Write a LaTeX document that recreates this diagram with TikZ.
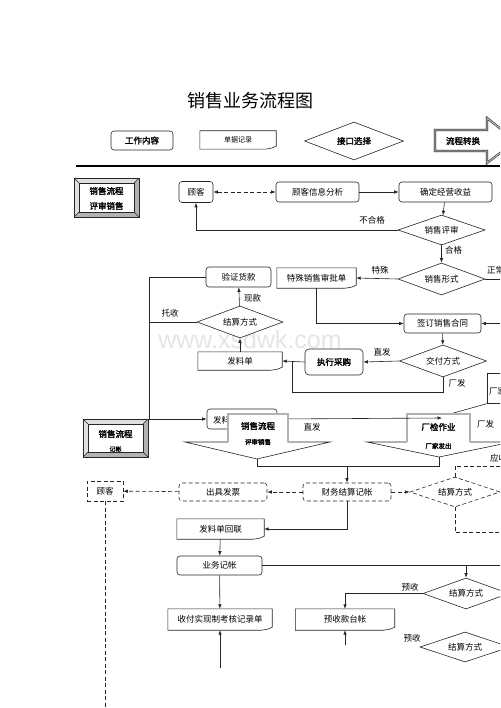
\documentclass[tikz,border=0pt]{standalone}
\usepackage{fontspec}
\newfontfamily\cjk{Noto Sans CJK SC}
\newfontfamily\cjkb[FakeBold=2]{Noto Sans CJK SC}
\newfontfamily\wmfont{Liberation Sans}
\usetikzlibrary{shapes.geometric,arrows.meta,calc}
\tikzset{
 ln/.style={line width=0.6pt, draw=black!85},
 arr/.style={ln, -{Latex[length=4.5pt,width=3.5pt]}},
 darr/.style={arr, dash pattern=on 4pt off 2.5pt},
 dln/.style={ln, dash pattern=on 4pt off 2.5pt},
 box/.style={ln, draw, rounded corners=3pt, fill=white, inner sep=0pt},
 dbox/.style={box, dash pattern=on 4pt off 2.5pt},
 dia/.style={ln, draw, diamond, aspect=3, inner sep=0pt, fill=white},
 ddia/.style={dia, dash pattern=on 4pt off 2.5pt},
 docn/.style={fill=white, inner sep=0pt},
 lbl/.style={inner sep=1pt},
 bld/.style={font=\cjkb\fontsize{8.5}{10}\selectfont},
 sbld/.style={font=\cjkb\fontsize{6.5}{7}\selectfont},
 bigarrow/.style={draw=black, double=gray!60, double distance=1.3pt, line width=0.4pt}
}
\newcommand\mydoc[6]{%
 \node[docn, minimum width=#4, minimum height=#5] (#1) at (#2,#3) {#6};
 \draw[ln] (#1.north west) -- (#1.north east) -- ($(#1.south east)+(0,-3)$) .. controls ($(#1.south east)+(-4,-1)$) .. ($(#1.south east)+(-11,0)$) -- (#1.south west) -- cycle;}
\newcommand\mybevel[4]{%
 \fill[gray!60] (#1,#2) rectangle (#3,#4);
 \fill[gray!25] (#1,#2) -- (#3,#2) -- ({#3-5},{#2+5}) -- ({#1+5},{#2+5}) -- ({#1+5},{#4-5}) -- (#1,#4) -- cycle;
 \draw[ln] (#1,#2) rectangle (#3,#4);
 \draw[ln, fill=white] ({#1+5},{#2+5}) rectangle ({#3-5},{#4-5});
 \draw[ln] (#1,#2) -- ({#1+5},{#2+5}) (#3,#2) -- ({#3-5},{#2+5}) (#1,#4) -- ({#1+5},{#4-5}) (#3,#4) -- ({#3-5},{#4-5});}
\begin{document}
\begin{tikzpicture}[x=1pt,y=-1pt,font=\cjk\fontsize{8.5}{10}\selectfont]
\useasboundingbox (0,0) rectangle (500,708);
\clip (0,0) rectangle (500,708);
\fill[white] (0,0) rectangle (500,708);

% watermark
\node[font=\wmfont\fontsize{25}{28}\selectfont, text=gray!20] (wm) at (250,340) {www.xsdwk.com};

% title
\node[font=\cjk\fontsize{18}{20}\selectfont] (title) at (250,101) {销售业务流程图};

% legend
\node[box, bld, minimum width=62, minimum height=19] (lg1) at (142,140.5) {工作内容};
\mydoc{lg2}{238}{140}{76}{18}{\fontsize{7}{8}\selectfont 单据记录}
\node[dia, bld, minimum width=99, minimum height=38] (lg3) at (354,141) {接口选择};
\filldraw[bigarrow, fill=white] (435,130) -- (487,130) -- (487,118) -- (516,141) -- (487,163) -- (487,151) -- (435,151) -- cycle;
\node[bld] (lg4) at (463,141) {流程转换};
\draw[line width=2.5pt] (76,166) -- (500,166);

% header 1
\mybevel{74}{178}{139}{217}
\node[bld] (h1a) at (106.5,191) {销售流程};
\node[bld] (h1b) at (106.5,206) {评审销售};

% row 1
\node[box, minimum width=34, minimum height=21] (c1) at (196,192) {顾客};
\node[box, minimum width=83, minimum height=20] (ana) at (317.5,192) {顾客信息分析};
\node[box, minimum width=93, minimum height=20] (prof) at (445.5,192) {确定经营收益};
\draw[darr, {Latex[length=4.5pt,width=3.5pt]}-{Latex[length=4.5pt,width=3.5pt]}] (c1) -- (ana);
\draw[arr] (ana) -- (prof);
\node[dia, minimum width=87, minimum height=30] (rev) at (441.5,230) {销售评审};
\draw[arr] (prof) -- (rev);
\draw[arr] (rev.west) -| (c1.south);
\node[lbl] (lbf) at (372,220) {不合格};
\node[dia, minimum width=87, minimum height=32] (form) at (441.5,279) {销售形式};
\draw[arr] (rev) -- (form);
\node[lbl, anchor=west] (lhg) at (444,250) {合格};
\mydoc{spec}{316.5}{278}{79}{20}{特殊销售审批单}
\draw[arr] (form.west) -- (spec.east);
\node[lbl] (lts) at (380,270) {特殊};
\coordinate (rg1) at (500,279);
\draw[ln] (form.east) -- (rg1);
\node[lbl, anchor=west] (lzc) at (486,270) {正常};

% payment block
\node[box, minimum width=65, minimum height=20] (verify) at (238.5,277) {验证货款};
\node[dia, minimum width=86, minimum height=32] (set1) at (240,322) {结算方式};
\draw[arr] (set1) -- (verify);
\node[lbl, anchor=west] (lxk) at (243,298) {现款};
\coordinate (j1) at (149,322);
\coordinate (j2) at (149,419);
\draw[ln] (set1.west) -- (j1);
\node[lbl] (lts2) at (170,313) {托收};
\mydoc{issue}{240}{361}{84}{18}{发料单}
\draw[arr] (issue) -- (set1);

\node[box, minimum width=77, minimum height=19] (contract) at (442.5,323.5) {签订销售合同};
\draw[arr] (spec.south) |- (contract.west);
\coordinate (rg2) at (500,323.5);
\draw[arr] (rg2) -- (contract.east);
\node[dia, minimum width=87, minimum height=32] (deliv) at (443,361) {交付方式};
\draw[arr] (contract) -- (deliv);
\node[box, rounded corners=4pt, bld, minimum width=58, minimum height=26] (purch) at (334,362) {执行采购};
\draw[arr] (deliv.west) -- (purch.east);
\node[lbl] (lzf) at (382,352) {直发};
\draw[arr] (purch.west) -- (issue.east);
\coordinate (k1) at (443,392);
\coordinate (k2) at (292,392);
\coordinate (k3) at (292,361);
\draw[ln] (deliv.south) -- (k1) -- (k2) -- (k3);
\node[lbl] (lcf) at (457,383) {厂发};

% right partial box
\node[ln, draw, fill=white, minimum width=40, minimum height=30, anchor=north west, inner sep=0pt] (rbox) at (487,373) {};
\node[lbl, anchor=west] (rbt) at (488,391) {厂家};
\coordinate (dg) at (443,416);
\draw[ln] (rbox.south west) -- (dg);

% header 2
\mybevel{83}{419}{148}{457}
\node[bld] (h2a) at (115.5,434) {销售流程};
\node[font=\cjkb\fontsize{6}{7}\selectfont] (h2b) at (115.5,449) {记帐};

% 发 box and flows
\node[box, minimum width=70, minimum height=20] (fa) at (242,419) {};
\node[lbl, anchor=west] (fat) at (212,420) {发料单};
\draw[ln] (verify.west) -| (j2);
\draw[arr] (j2) -- (fa.west);

% big arrow B
\filldraw[ln, fill=white] (407,414) -- (470,414) -- (470,442) -- (512,442) -- (439,457) -- (367,442) -- (407,442) -- cycle;
\draw[bigarrow] (407,442) -- (407,414) -- (470,414) -- (470,442);
\node[bld] (bb1) at (438.5,427) {厂检作业};
\node[sbld] (bb2) at (438.5,446) {厂家发出};
\coordinate (bt) at (442,418);
\draw[arr] (fa.east) -- (bt);
\node[lbl] (lzf2) at (312,427) {直发};
\node[lbl, anchor=west] (lcf2) at (476,424) {厂发};

% big arrow A
\filldraw[ln, fill=white] (228,414) -- (288,414) -- (288,442) -- (330,442) -- (257,459) -- (185,442) -- (228,442) -- cycle;
\draw[bigarrow] (228,442) -- (228,414) -- (288,414) -- (288,442);
\node[bld] (ab1) at (258,426) {销售流程};
\node[sbld] (ab2) at (258,442) {评审销售};

% finance row
\coordinate (ta) at (257,459);
\coordinate (tb) at (439,457);
\coordinate (m1) at (257,466);
\coordinate (m2) at (439,466);
\coordinate (m3) at (347,466);
\draw[ln] (ta) -- (m1) -- (m2) -- (tb);
\node[dbox, rounded corners=0pt, minimum width=36, minimum height=20] (cust2) at (105,491) {顾客};
\node[dbox, minimum width=88, minimum height=18] (inv) at (223,492) {出具发票};
\node[dbox, minimum width=88, minimum height=18] (fin) at (347,492) {财务结算记帐};
\node[ddia, minimum width=90, minimum height=30] (set2) at (455,492) {结算方式};
\draw[arr] (m3) -- (fin.north);
\draw[darr] (fin) -- (inv);
\draw[darr] (inv) -- (cust2);
\draw[darr] (fin) -- (set2);
\coordinate (bot) at (105,708);
\draw[dln] (cust2.south) -- (bot);
\coordinate (s1) at (455,466);
\coordinate (s2) at (500,466);
\coordinate (s3) at (455,532);
\coordinate (s4) at (500,532);
\draw[dln] (set2.north) -- (s1) -- (s2);
\draw[dln] (set2.south) -- (s3) -- (s4);
\node[lbl, anchor=west] (lys) at (489,458) {应收};

% lower
\mydoc{ret}{220.5}{529}{87}{20}{发料单回联}
\draw[arr] (fin.south) |- (ret.east);
\node[box, minimum width=85, minimum height=19] (book) at (219.5,565.5) {业务记帐};
\draw[arr] (ret) -- (book);
\coordinate (r1) at (500,565.5);
\coordinate (r2) at (466,565.5);
\draw[ln] (book.east) -- (r1);
\node[dia, minimum width=86, minimum height=31] (set3) at (466,593.5) {结算方式};
\draw[arr] (r2) -- (set3.north);
\mydoc{pre}{345}{619.5}{99}{21}{预收款台帐}
\draw[arr] (set3.west) -| (pre.north);
\node[lbl] (lyu1) at (410,587) {预收};
\coordinate (p1) at (345,645);
\draw[arr] (p1) -- (pre.south);
\mydoc{rec}{220}{619.5}{104}{21}{收付实现制考核记录单}
\draw[arr] (book) -- (rec);
\coordinate (q1) at (220,668);
\draw[arr] (q1) -- (rec.south);
\node[dia, minimum width=90, minimum height=30] (set4) at (465,647) {结算方式};
\node[lbl] (lyu2) at (412,638) {预收};
\end{tikzpicture}
\end{document}
